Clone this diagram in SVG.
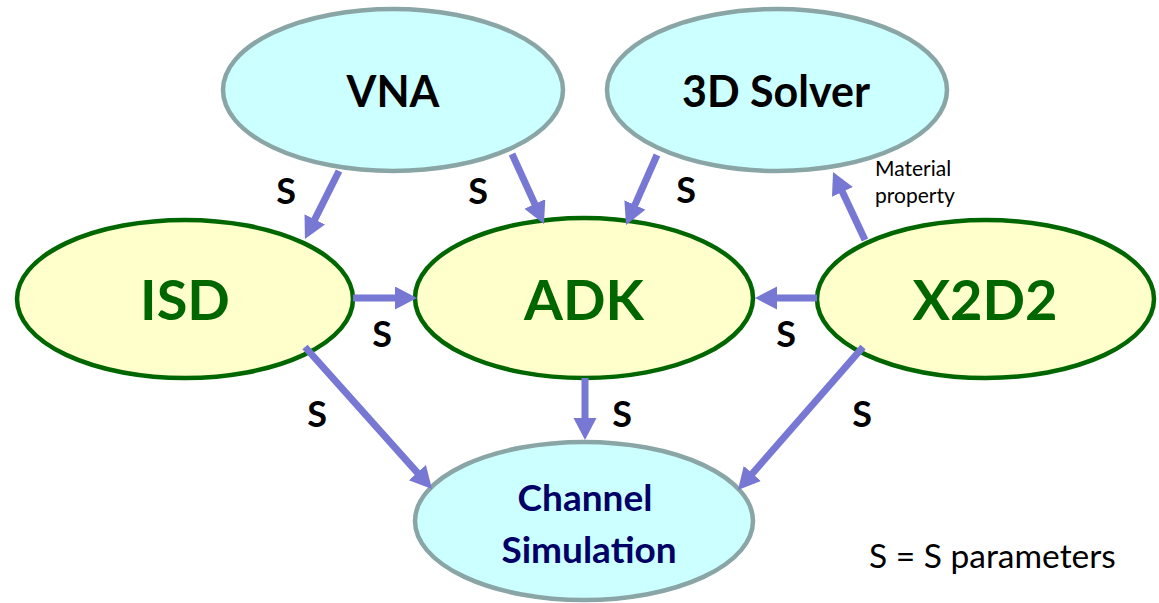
<svg xmlns="http://www.w3.org/2000/svg" width="1159" height="603" viewBox="0 0 1159 603">
<style>
.cy{fill:#ccffff;stroke:#8aa5a5;stroke-width:4.5}
.ye{fill:#ffffcc;stroke:#006600;stroke-width:4.5}
.t1{font-family:Lato,"Liberation Sans",sans-serif;font-weight:bold;font-size:43px;fill:#000;text-anchor:middle}
.t2{font-family:Lato,"Liberation Sans",sans-serif;font-weight:bold;font-size:56px;fill:#006600;text-anchor:middle}
.t3{font-family:Lato,"Liberation Sans",sans-serif;font-weight:bold;font-size:37px;fill:#000066;text-anchor:middle}
.s{font-family:Lato,"Liberation Sans",sans-serif;font-weight:bold;font-size:36px;fill:#000;text-anchor:middle}
.n{font-family:Lato,"Liberation Sans",sans-serif;fill:#000}
.c{stroke:#7777d4;stroke-width:7;fill:none}
</style>
<defs>
<marker id="ah" markerUnits="userSpaceOnUse" markerWidth="24" markerHeight="24" refX="4" refY="11.5" orient="auto">
<path d="M0,0 L22,11.5 L0,23 z" fill="#7777d4"/>
</marker>
</defs>
<rect width="1159" height="603" fill="#fff"/>
<g id="vna"><ellipse class="cy" cx="393" cy="90" rx="170" ry="81"/><text class="t1" x="393" y="107">VNA</text></g>
<g id="solver3d"><ellipse class="cy" cx="777" cy="90" rx="170" ry="81"/><text class="t1" x="776" y="107">3D Solver</text></g>
<g id="isd"><ellipse class="ye" cx="185" cy="299" rx="168" ry="79"/><text class="t2" x="185" y="320">ISD</text></g>
<g id="adk"><ellipse class="ye" cx="584" cy="298" rx="169" ry="80"/><text class="t2" x="584" y="320">ADK</text></g>
<g id="x2d2"><ellipse class="ye" cx="985.5" cy="299" rx="168.5" ry="79"/><text class="t2" x="985" y="320">X2D2</text></g>
<g id="channel"><ellipse class="cy" cx="584" cy="521" rx="169" ry="79"/><text class="t3" x="585" y="511">Channel</text><text class="t3" x="589" y="563">Simulation</text></g>
<g id="connectors">
<line class="c" x1="339" y1="171" x2="313" y2="222.9" marker-end="url(#ah)"/>
<line class="c" x1="512" y1="154" x2="536.5" y2="207.6" marker-end="url(#ah)"/>
<line class="c" x1="657" y1="155" x2="633.3" y2="208.6" marker-end="url(#ah)"/>
<line class="c" x1="865" y1="240" x2="840.7" y2="188.3" marker-end="url(#ah)"/>
<line class="c" x1="353" y1="298" x2="399" y2="298" marker-end="url(#ah)"/>
<line class="c" x1="817" y1="298" x2="773" y2="298" marker-end="url(#ah)"/>
<line class="c" x1="305" y1="347" x2="420" y2="475.6" marker-end="url(#ah)"/>
<line class="c" x1="585" y1="378" x2="585" y2="422" marker-end="url(#ah)"/>
<line class="c" x1="863" y1="347" x2="749.8" y2="476.5" marker-end="url(#ah)"/>
</g>
<g id="labels">
<text class="s" x="286" y="204">S</text>
<text class="s" x="478" y="204">S</text>
<text class="s" x="686" y="203">S</text>
<text class="s" x="382" y="347">S</text>
<text class="s" x="786" y="347">S</text>
<text class="s" x="317" y="427">S</text>
<text class="s" x="622" y="427">S</text>
<text class="s" x="862" y="427">S</text>
<text class="n" x="875" y="176" font-size="21">Material</text>
<text class="n" x="875" y="203" font-size="21">property</text>
<text class="n" x="869" y="568" font-size="33.5">S = S parameters</text>
</g>
</svg>
